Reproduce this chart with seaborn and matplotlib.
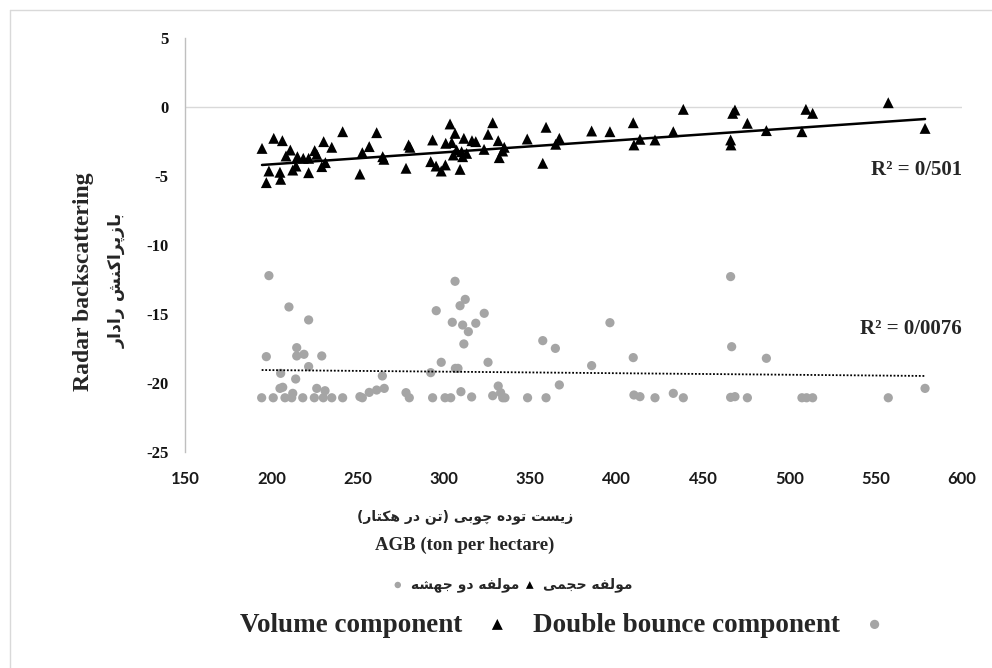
import numpy as np
import matplotlib
matplotlib.use("Agg")
import matplotlib.pyplot as plt
from matplotlib.lines import Line2D
import seaborn as sns

# ---------------- data ----------------
vol_x = [194.6, 201.4, 206.4, 197.1, 198.6, 205.0, 205.4, 208.5, 211.0, 212.4,
         214.3, 215.1, 218.5, 221.6, 221.6, 225.1, 226.3, 229.2, 231.3, 230.3,
         235.0, 241.3, 251.3, 252.7, 256.7, 261.0, 264.5, 265.2, 278.0, 279.5,
         280.3, 292.3, 293.4, 295.4, 298.4, 300.8, 301.0, 303.5, 304.5, 306.4,
         305.4, 307.3, 309.3, 310.2, 310.8, 311.5, 313.1, 316.2, 318.4, 323.2,
         325.5, 328.2, 331.4, 332.0, 334.0, 334.9, 348.2, 357.2, 359.1, 364.7,
         366.8, 385.5, 396.1, 409.6, 410.0, 413.5, 422.2, 432.8, 438.6, 466.0,
         466.2, 467.2, 468.5, 475.7, 486.7, 507.3, 509.6, 513.5, 557.3, 578.6]
vol_y = [-3.00, -2.27, -2.44, -5.48, -4.64, -4.73, -5.24, -3.55, -3.12, -4.57,
         -4.28, -3.60, -3.72, -3.72, -4.76, -3.16, -3.43, -4.32, -4.03, -2.51,
         -2.92, -1.79, -4.86, -3.31, -2.87, -1.86, -3.60, -3.79, -4.44, -2.75,
         -2.92, -3.96, -2.39, -4.28, -4.64, -4.20, -2.63, -1.23, -2.58, -1.91,
         -3.48, -3.12, -4.52, -3.24, -3.60, -2.27, -3.36, -2.44, -2.51, -3.07,
         -1.98, -1.14, -2.44, -3.67, -3.19, -2.92, -2.32, -4.08, -1.47, -2.70,
         -2.27, -1.74, -1.79, -1.14, -2.75, -2.34, -2.39, -1.79, -0.17, -2.39,
         -2.75, -0.46, -0.22, -1.18, -1.71, -1.79, -0.17, -0.46, 0.31, -1.55]

db_x = [198.6, 197.1, 194.4, 201.1, 205.4, 205.0, 206.6, 207.9, 210.2, 212.4,
        211.8, 214.1, 214.7, 214.7, 218.9, 218.2, 221.6, 221.6, 224.9, 226.3,
        229.2, 230.1, 231.1, 235.0, 241.3, 251.3, 252.7, 256.7, 261.0, 264.3,
        265.4, 278.0, 279.9, 292.3, 293.4, 295.5, 298.4, 300.6, 303.9, 304.8,
        306.4, 306.6, 308.1, 309.3, 309.8, 310.8, 311.5, 312.3, 314.1, 316.0,
        318.4, 323.3, 325.5, 328.2, 331.4, 332.8, 334.0, 335.3, 348.4, 357.2,
        359.1, 364.5, 366.8, 385.5, 396.1, 409.6, 410.0, 413.5, 422.2, 432.8,
        438.6, 466.0, 466.6, 466.0, 468.5, 475.7, 486.7, 507.3, 510.0, 513.5,
        557.3, 578.6]
db_y = [-12.22, -18.09, -21.07, -21.07, -19.30, -20.39, -20.31, -21.07, -14.49, -20.75,
        -21.07, -19.71, -17.44, -18.04, -17.92, -21.07, -15.43, -18.81, -21.07, -20.39,
        -18.04, -21.07, -20.56, -21.07, -21.07, -20.99, -21.07, -20.68, -20.51, -19.49,
        -20.39, -20.70, -21.07, -19.25, -21.07, -14.76, -18.50, -21.07, -21.07, -15.60,
        -12.63, -18.94, -18.94, -14.40, -20.63, -15.80, -17.17, -13.94, -16.28, -21.01,
        -15.67, -14.95, -18.50, -20.92, -20.22, -20.70, -21.07, -21.07, -21.07, -16.93,
        -21.07, -17.49, -20.14, -18.74, -15.63, -18.16, -20.87, -20.99, -21.07, -20.75,
        -21.07, -12.29, -17.37, -21.04, -20.99, -21.07, -18.21, -21.07, -21.07, -21.07,
        -21.07, -20.39]

# linear trend lines as shown in the chart (end points)
vol_trend_x = [194.6, 578.6]
vol_trend_y = [-4.20, -0.87]
db_trend_x = [194.4, 578.6]
db_trend_y = [-19.06, -19.49]

x_ticks = [150, 200, 250, 300, 350, 400, 450, 500, 550, 600]
y_ticks = [5, 0, -5, -10, -15, -20, -25]
r2_labels = ["R\u00b2 = 0/501", "R\u00b2 = 0/0076"]
r2_pos_y = [-4.57, -16.1]

xlabel_fa = "زیست توده چوبی (تن در هکتار)"
xlabel_en = "AGB (ton per hectare)"
ylabel_en = "Radar backscattering"
ylabel_fa = "بازپراکنش رادار"
legend_fa = ["مولفه دو جهشه", "مولفه حجمی"]
legend_en = ["Volume component", "Double bounce component"]

# -------------- Persian shaping (presentation forms + RTL order) --------------
AR_FORMS = {
    '\u0627': ('\uFE8D', '\uFE8E', None, None),
    '\u0628': ('\uFE8F', '\uFE90', '\uFE91', '\uFE92'),
    '\u067E': ('\uFB56', '\uFB57', '\uFB58', '\uFB59'),
    '\u062A': ('\uFE95', '\uFE96', '\uFE97', '\uFE98'),
    '\u062C': ('\uFE9D', '\uFE9E', '\uFE9F', '\uFEA0'),
    '\u0686': ('\uFB7A', '\uFB7B', '\uFB7C', '\uFB7D'),
    '\u062D': ('\uFEA1', '\uFEA2', '\uFEA3', '\uFEA4'),
    '\u062F': ('\uFEA9', '\uFEAA', None, None),
    '\u0631': ('\uFEAD', '\uFEAE', None, None),
    '\u0632': ('\uFEAF', '\uFEB0', None, None),
    '\u0633': ('\uFEB1', '\uFEB2', '\uFEB3', '\uFEB4'),
    '\u0634': ('\uFEB5', '\uFEB6', '\uFEB7', '\uFEB8'),
    '\u0641': ('\uFED1', '\uFED2', '\uFED3', '\uFED4'),
    '\u06A9': ('\uFB8E', '\uFB8F', '\uFB90', '\uFB91'),
    '\u0644': ('\uFEDD', '\uFEDE', '\uFEDF', '\uFEE0'),
    '\u0645': ('\uFEE1', '\uFEE2', '\uFEE3', '\uFEE4'),
    '\u0646': ('\uFEE5', '\uFEE6', '\uFEE7', '\uFEE8'),
    '\u0648': ('\uFEED', '\uFEEE', None, None),
    '\u0647': ('\uFEE9', '\uFEEA', '\uFEEB', '\uFEEC'),
    '\u06CC': ('\uFBFC', '\uFBFD', '\uFBFE', '\uFBFF'),
}


def fa(text):
    text = text.replace('\u064A', '\u06CC').replace('\u0643', '\u06A9')
    out = []
    n = len(text)
    for i, ch in enumerate(text):
        f = AR_FORMS.get(ch)
        if f is None:
            out.append(ch)
            continue
        prev = text[i - 1] if i > 0 else ''
        nxt = text[i + 1] if i < n - 1 else ''
        jp = prev in AR_FORMS and AR_FORMS[prev][2] is not None
        jn = f[2] is not None and nxt in AR_FORMS
        if jp and jn:
            out.append(f[3])
        elif jp:
            out.append(f[1])
        elif jn:
            out.append(f[2])
        else:
            out.append(f[0])
    vis = ''.join(reversed(out))
    return vis.translate(str.maketrans('()', ')('))


# ---------------- plot ----------------
sns.set_style("white")
plt.rcParams['font.family'] = ['Liberation Serif', 'DejaVu Sans']

W, H = 992, 668
fig = plt.figure(figsize=(W / 100, H / 100), dpi=100)
ax = fig.add_axes([185 / W, 1 - 452 / H, (962 - 185) / W, (452 - 38) / H])

GRAY_PT = '#A5A5A5'
sns.scatterplot(x=vol_x, y=vol_y, ax=ax, marker='^', color='black', s=62,
                edgecolor='none', linewidth=0, zorder=3)
sns.scatterplot(x=db_x, y=db_y, ax=ax, marker='o', color=GRAY_PT, s=44,
                edgecolor='none', linewidth=0, zorder=3)

sns.lineplot(x=vol_trend_x, y=vol_trend_y, ax=ax, color='black', lw=1.8, zorder=4)
sns.lineplot(x=db_trend_x, y=db_trend_y, ax=ax, color='black', lw=1.3,
             ls=(0, (1, 1)), zorder=4)

ax.set_xlim(150, 600)
ax.set_ylim(-25, 5)
ax.set_xticks(x_ticks)
ax.set_yticks(y_ticks)
ax.set_xticklabels([str(v) for v in x_ticks], family='Lato', fontweight='bold',
                   fontsize=12, color='#1a1a1a')
ax.set_yticklabels([str(v) for v in y_ticks], family='Liberation Serif',
                   fontweight='bold', fontsize=12, color='#111111')
ax.tick_params(axis='both', length=0)
ax.tick_params(axis='x', pad=14)
ax.tick_params(axis='y', pad=12)
ax.set_xlabel('')
ax.set_ylabel('')
for side in ['top', 'right', 'bottom']:
    ax.spines[side].set_visible(False)
ax.spines['left'].set_color('#BFBFBF')
ax.spines['left'].set_linewidth(1)
ax.axhline(0, color='#D9D9D9', lw=1, zorder=1)
ax.grid(False)

for lab, yy in zip(r2_labels, r2_pos_y):
    ax.text(600, yy, lab, ha='right', va='center', fontsize=15,
            fontweight='bold', family='Liberation Serif')

# axis titles
fig.text(465 / W, 1 - 517 / H, fa(xlabel_fa), ha='center', va='center',
         fontsize=10, fontweight='bold', family='DejaVu Sans')
fig.text(465 / W, 1 - 545 / H, xlabel_en, ha='center', va='center',
         fontsize=13.5, fontweight='bold', family='Liberation Serif')
fig.text(84 / W, 1 - 282 / H, ylabel_en, ha='center', va='center', rotation=90,
         fontsize=17, fontweight='bold', family='Liberation Serif')
fig.text(117 / W, 1 - 280 / H, fa(ylabel_fa), ha='center', va='center', rotation=90,
         fontsize=12.5, fontweight='bold', family='DejaVu Sans')

# legends
tri, circ = ax.collections[0], ax.collections[1]
leg_fa = fig.legend([circ, tri], [fa(t) for t in legend_fa], loc='center',
                    bbox_to_anchor=(512 / W, 1 - 585 / H), ncol=2, frameon=False,
                    markerscale=0.7, handlelength=0.9, handletextpad=0.5,
                    columnspacing=0.3,
                    prop=dict(family='DejaVu Sans', weight='bold', size=10))
leg_en = fig.legend([tri, circ], legend_en, loc='center',
                    bbox_to_anchor=(564 / W, 1 - 625 / H), ncol=2, frameon=False,
                    markerfirst=False, markerscale=1.0, handlelength=1.0,
                    handletextpad=0.8, columnspacing=0.8,
                    prop=dict(family='Liberation Serif', weight='bold', size=19.5))

# outer chart border (left and top visible)
fig.add_artist(Line2D([10 / W, 10 / W], [0, 1 - 10 / H], color='#D9D9D9', lw=1))
fig.add_artist(Line2D([10 / W, 1], [1 - 10 / H, 1 - 10 / H], color='#D9D9D9', lw=1))

fig.savefig('out.png', dpi=100, facecolor='white')
